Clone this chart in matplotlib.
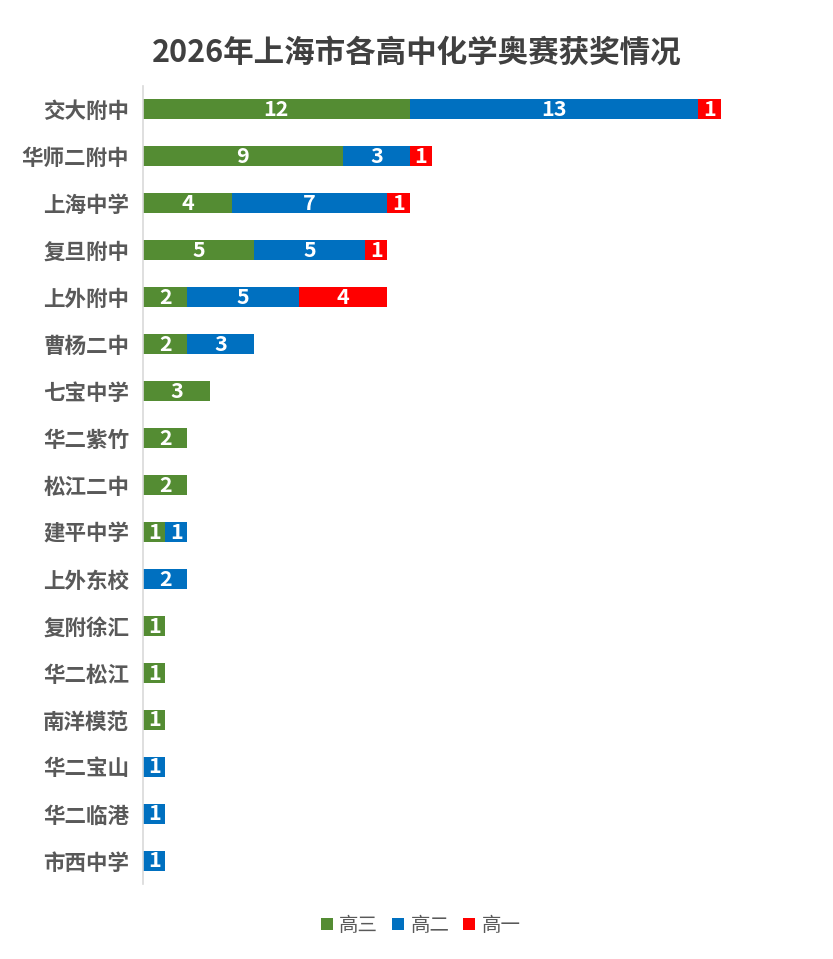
import matplotlib
matplotlib.use('Agg')
import matplotlib.pyplot as plt
from matplotlib.patches import Patch
import numpy as np

plt.rcParams['font.family'] = ['Noto Sans CJK SC', 'DejaVu Sans']

schools = ['交大附中', '华师二附中', '上海中学', '复旦附中', '上外附中', '曹杨二中',
           '七宝中学', '华二紫竹', '松江二中', '建平中学', '上外东校', '复附徐汇',
           '华二松江', '南洋模范', '华二宝山', '华二临港', '市西中学']
gao3 = [12, 9, 4, 5, 2, 2, 3, 2, 2, 1, 0, 1, 1, 1, 0, 0, 0]
gao2 = [13, 3, 7, 5, 5, 3, 0, 0, 0, 1, 2, 0, 0, 0, 1, 1, 1]
gao1 = [1, 1, 1, 1, 4, 0, 0, 0, 0, 0, 0, 0, 0, 0, 0, 0, 0]
series = [('高三', gao3, '#548c33'), ('高二', gao2, '#0070c0'), ('高一', gao1, '#ff0000')]

fig = plt.figure(figsize=(8.33, 9.59), dpi=100)
ax = fig.add_axes([0.1717, 0.0777, 0.80, 0.8331])

y = np.arange(len(schools))
left = np.zeros(len(schools))
for name, vals, col in series:
    vals = np.array(vals, dtype=float)
    bars = ax.barh(y, vals, left=left, height=0.42, color=col, label=name)
    labels = [str(int(v)) if v > 0 else '' for v in vals]
    ax.bar_label(bars, labels=labels, label_type='center', color='white',
                 fontsize=15.5, fontweight='bold')
    left += vals

ax.set_ylim(len(schools) - 0.5, -0.5)
ax.set_xlim(0, 30)
ax.set_yticks(y)
ax.set_yticklabels(schools, fontsize=15.5, fontweight='bold', color='#595959')
ax.tick_params(axis='y', length=0, pad=10)
ax.set_xticks([])
for s in ['top', 'right', 'bottom']:
    ax.spines[s].set_visible(False)
ax.spines['left'].set_color('#d9d9d9')
ax.spines['left'].set_linewidth(1.2)

fig.suptitle('2026年上海市各高中化学奥赛获奖情况', fontsize=22, fontweight='bold',
             color='#404040', y=0.962)

handles = [Patch(facecolor=c, label=n) for n, v, c in series]
fig.legend(handles=handles, loc='center', bbox_to_anchor=(0.505, 0.035), ncol=3,
           frameon=False, fontsize=14, handlelength=0.6, handleheight=0.6,
           handletextpad=0.35, columnspacing=0.7, labelcolor='#595959')

fig.savefig('out.png', dpi=100, facecolor='white')
